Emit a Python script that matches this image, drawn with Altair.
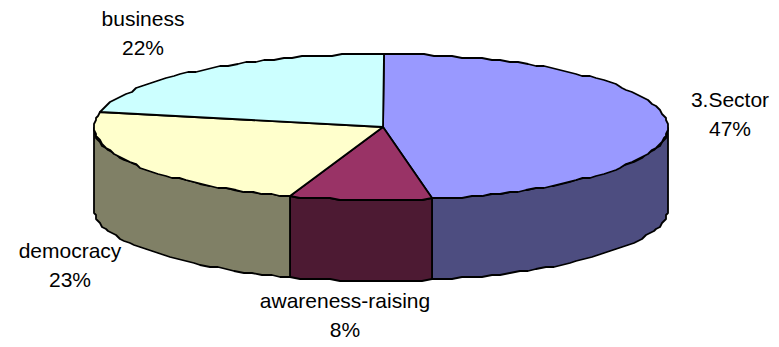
import math
import altair as alt

# Shares of each field of activity, clockwise from twelve o'clock
names = ["3.Sector", "awareness-raising", "democracy", "business"]
shares = [47, 8, 23, 22]
top_colors = ["#9999FF", "#993366", "#FFFFCC", "#CCFFFF"]
wall_colors = ["#4D4D80", "#4D1A33", "#808066", "#666680"]

# Label anchors in pixels (horizontal centre, first line's vertical centre)
label_x = [730, 345, 70, 143]
label_y = [101, 302, 252, 20]

# Tilted disc geometry: rim ellipse, hub point and wall height
CX, CY, RX, RY, DEPTH = 381, 127, 287, 73, 81
HUB_X, HUB_Y = 383, 127
FIRST_ANGLE = 0.4
STEP_DEG, GRID = 2, 2


def rim(deg):
    """Point on the disc's rim, snapped to a coarse grid like a low-resolution metafile."""
    a = math.radians(deg)
    x = CX + RX * math.sin(a)
    y = CY - RY * math.cos(a)
    return [round(x / GRID) * GRID, round(y / GRID) * GRID]


def arc(a0, a1):
    n = max(1, int(abs(a1 - a0) / STEP_DEG))
    return [rim(a0 + (a1 - a0) * i / n) for i in range(n + 1)]


def feature(ring, color):
    return {
        "type": "Feature",
        "geometry": {"type": "Polygon", "coordinates": [ring + [ring[0]]]},
        "properties": {"color": color},
    }


walls, tops = [], []
start = FIRST_ANGLE
total = sum(shares)
for share, top_c, wall_c in zip(shares, top_colors, wall_colors):
    end = start + 360.0 * share / total
    tops.append(feature([[HUB_X, HUB_Y]] + arc(start, end), top_c))
    # Only the part of a slice facing the viewer shows a wall
    lo, hi = max(start, 90.0), min(end, 270.0)
    if lo < hi:
        upper = arc(lo, hi)
        lower = [[x, y + DEPTH] for x, y in reversed(upper)]
        walls.append(feature(upper + lower, wall_c))
    start = end


def disc_layer(features):
    return (
        alt.Chart(alt.Data(values=features))
        .mark_geoshape(stroke="black", strokeWidth=1.8, strokeJoin="round")
        .encode(fill=alt.Fill("properties.color:N", scale=None))
        .project(type="identity", scale=1, translate=[0, 0])
    )


labels = [
    {"text": f"{n}\n{s}%", "x": x, "y": y}
    for n, s, x, y in zip(names, shares, label_x, label_y)
]
text = (
    alt.Chart(alt.Data(values=labels))
    .mark_text(
        font="Liberation Sans",
        fontSize=21,
        lineBreak="\n",
        lineHeight=29,
        color="black",
        align="center",
        baseline="middle",
    )
    .encode(
        x=alt.X("x:Q", scale=None),
        y=alt.Y("y:Q", scale=None),
        text="text:N",
    )
)

chart = (
    alt.layer(disc_layer(walls), disc_layer(tops), text)
    .properties(
        width=779,
        height=347,
        padding=0,
        autosize=alt.AutoSizeParams(type="none"),
        background="white",
    )
    .configure_view(stroke=None)
)

chart.save("out.html", embed_options={"renderer": "svg", "actions": False})
